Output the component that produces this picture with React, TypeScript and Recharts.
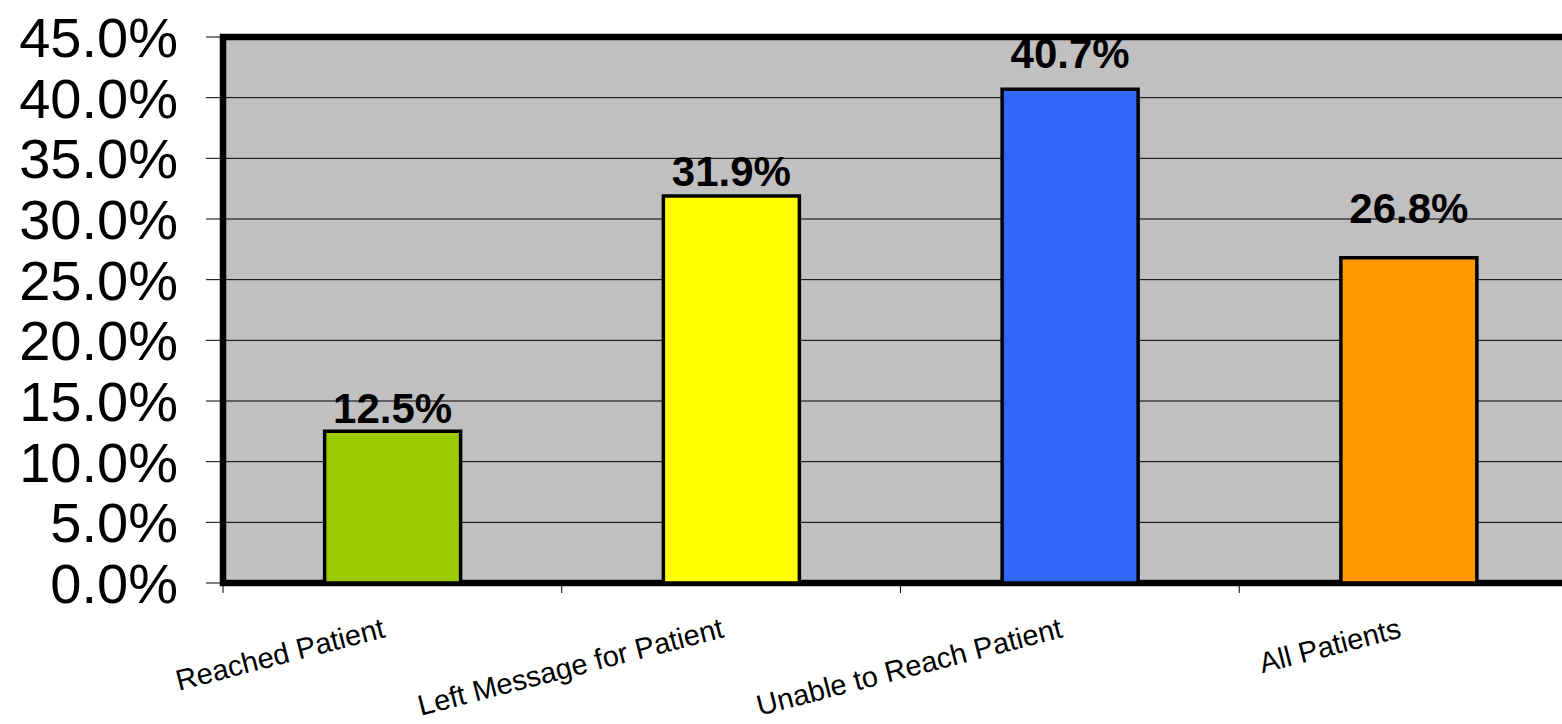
import { Bar, BarChart, CartesianGrid, Cell, LabelList, ReferenceArea, XAxis, YAxis } from "recharts"

const categories = ["Reached Patient", "Left Message for Patient", "Unable to Reach Patient", "All Patients"]
const rates = [12.5, 31.9, 40.7, 26.8]
const yTicks = [0, 5, 10, 15, 20, 25, 30, 35, 40, 45]

const barColors = ["#99CC00", "#FFFF00", "#3366FF", "#FF9900"]
// how far each value label sits above its bar (px), as placed in the original
const labelLift = [8, 10, 21, 35]

const data = categories.map((name, i) => ({ name, rate: rates[i] }))

const CHART_W = 1600
const CHART_H = 724
const Y_AXIS_W = 223
const MARGIN = { top: 37, right: 22, bottom: 41, left: 0 }
const band = (CHART_W - Y_AXIS_W - MARGIN.right - MARGIN.left) / categories.length

const font = "'Liberation Sans', Arial, sans-serif"

function CategoryTick(props: any) {
  const { x, y, payload } = props
  const tx = x - 6
  const ty = y + 54
  return (
    <g>
      <line x1={x - band / 2} y1={y} x2={x - band / 2} y2={y + 10} stroke="#000" strokeWidth={1} />
      <text
        x={tx}
        y={ty}
        textAnchor="end"
        fontFamily={font}
        fontSize={29}
        fill="#000"
        transform={`rotate(-14.5, ${tx}, ${ty})`}
      >
        {payload.value}
      </text>
    </g>
  )
}

function ValueLabel(props: any) {
  const { x, y, width, value, index } = props
  return (
    <text
      x={x + width / 2}
      y={y - labelLift[index]}
      textAnchor="middle"
      fontFamily={font}
      fontWeight="bold"
      fontSize={42}
      fill="#000"
    >
      {`${Number(value).toFixed(1)}%`}
    </text>
  )
}

export default function App() {
  return (
    <div style={{ position: "absolute", left: 0, top: 0, width: 1562, height: 724, overflow: "hidden", background: "#fff" }}>
      <BarChart width={CHART_W} height={CHART_H} data={data} margin={MARGIN} barCategoryGap="30%">
        <CartesianGrid vertical={false} fill="#C0C0C0" fillOpacity={1} stroke="#000" strokeWidth={1} />
        <XAxis
          dataKey="name"
          height={100}
          tickSize={0}
          tickMargin={0}
          tickLine={false}
          interval={0}
          tick={<CategoryTick />}
          axisLine={false}
        />
        <YAxis
          width={Y_AXIS_W}
          domain={[0, 45]}
          ticks={yTicks}
          interval={0}
          tickSize={17}
          tickMargin={28}
          tickLine={{ stroke: "#000", strokeWidth: 1 }}
          axisLine={false}
          tick={{ fontFamily: font, fontSize: 56, fill: "#000" }}
          tickFormatter={(v: number) => `${v.toFixed(1)}%`}
        />
        <Bar dataKey="rate" stroke="#000" strokeWidth={3.5} isAnimationActive={false}>
          {data.map((d, i) => (
            <Cell key={d.name} fill={barColors[i]} />
          ))}
          <LabelList dataKey="rate" content={<ValueLabel />} />
        </Bar>
        <ReferenceArea y1={0} y2={45} fill="none" fillOpacity={0} stroke="#000" strokeWidth={6.5} />
      </BarChart>
    </div>
  )
}
